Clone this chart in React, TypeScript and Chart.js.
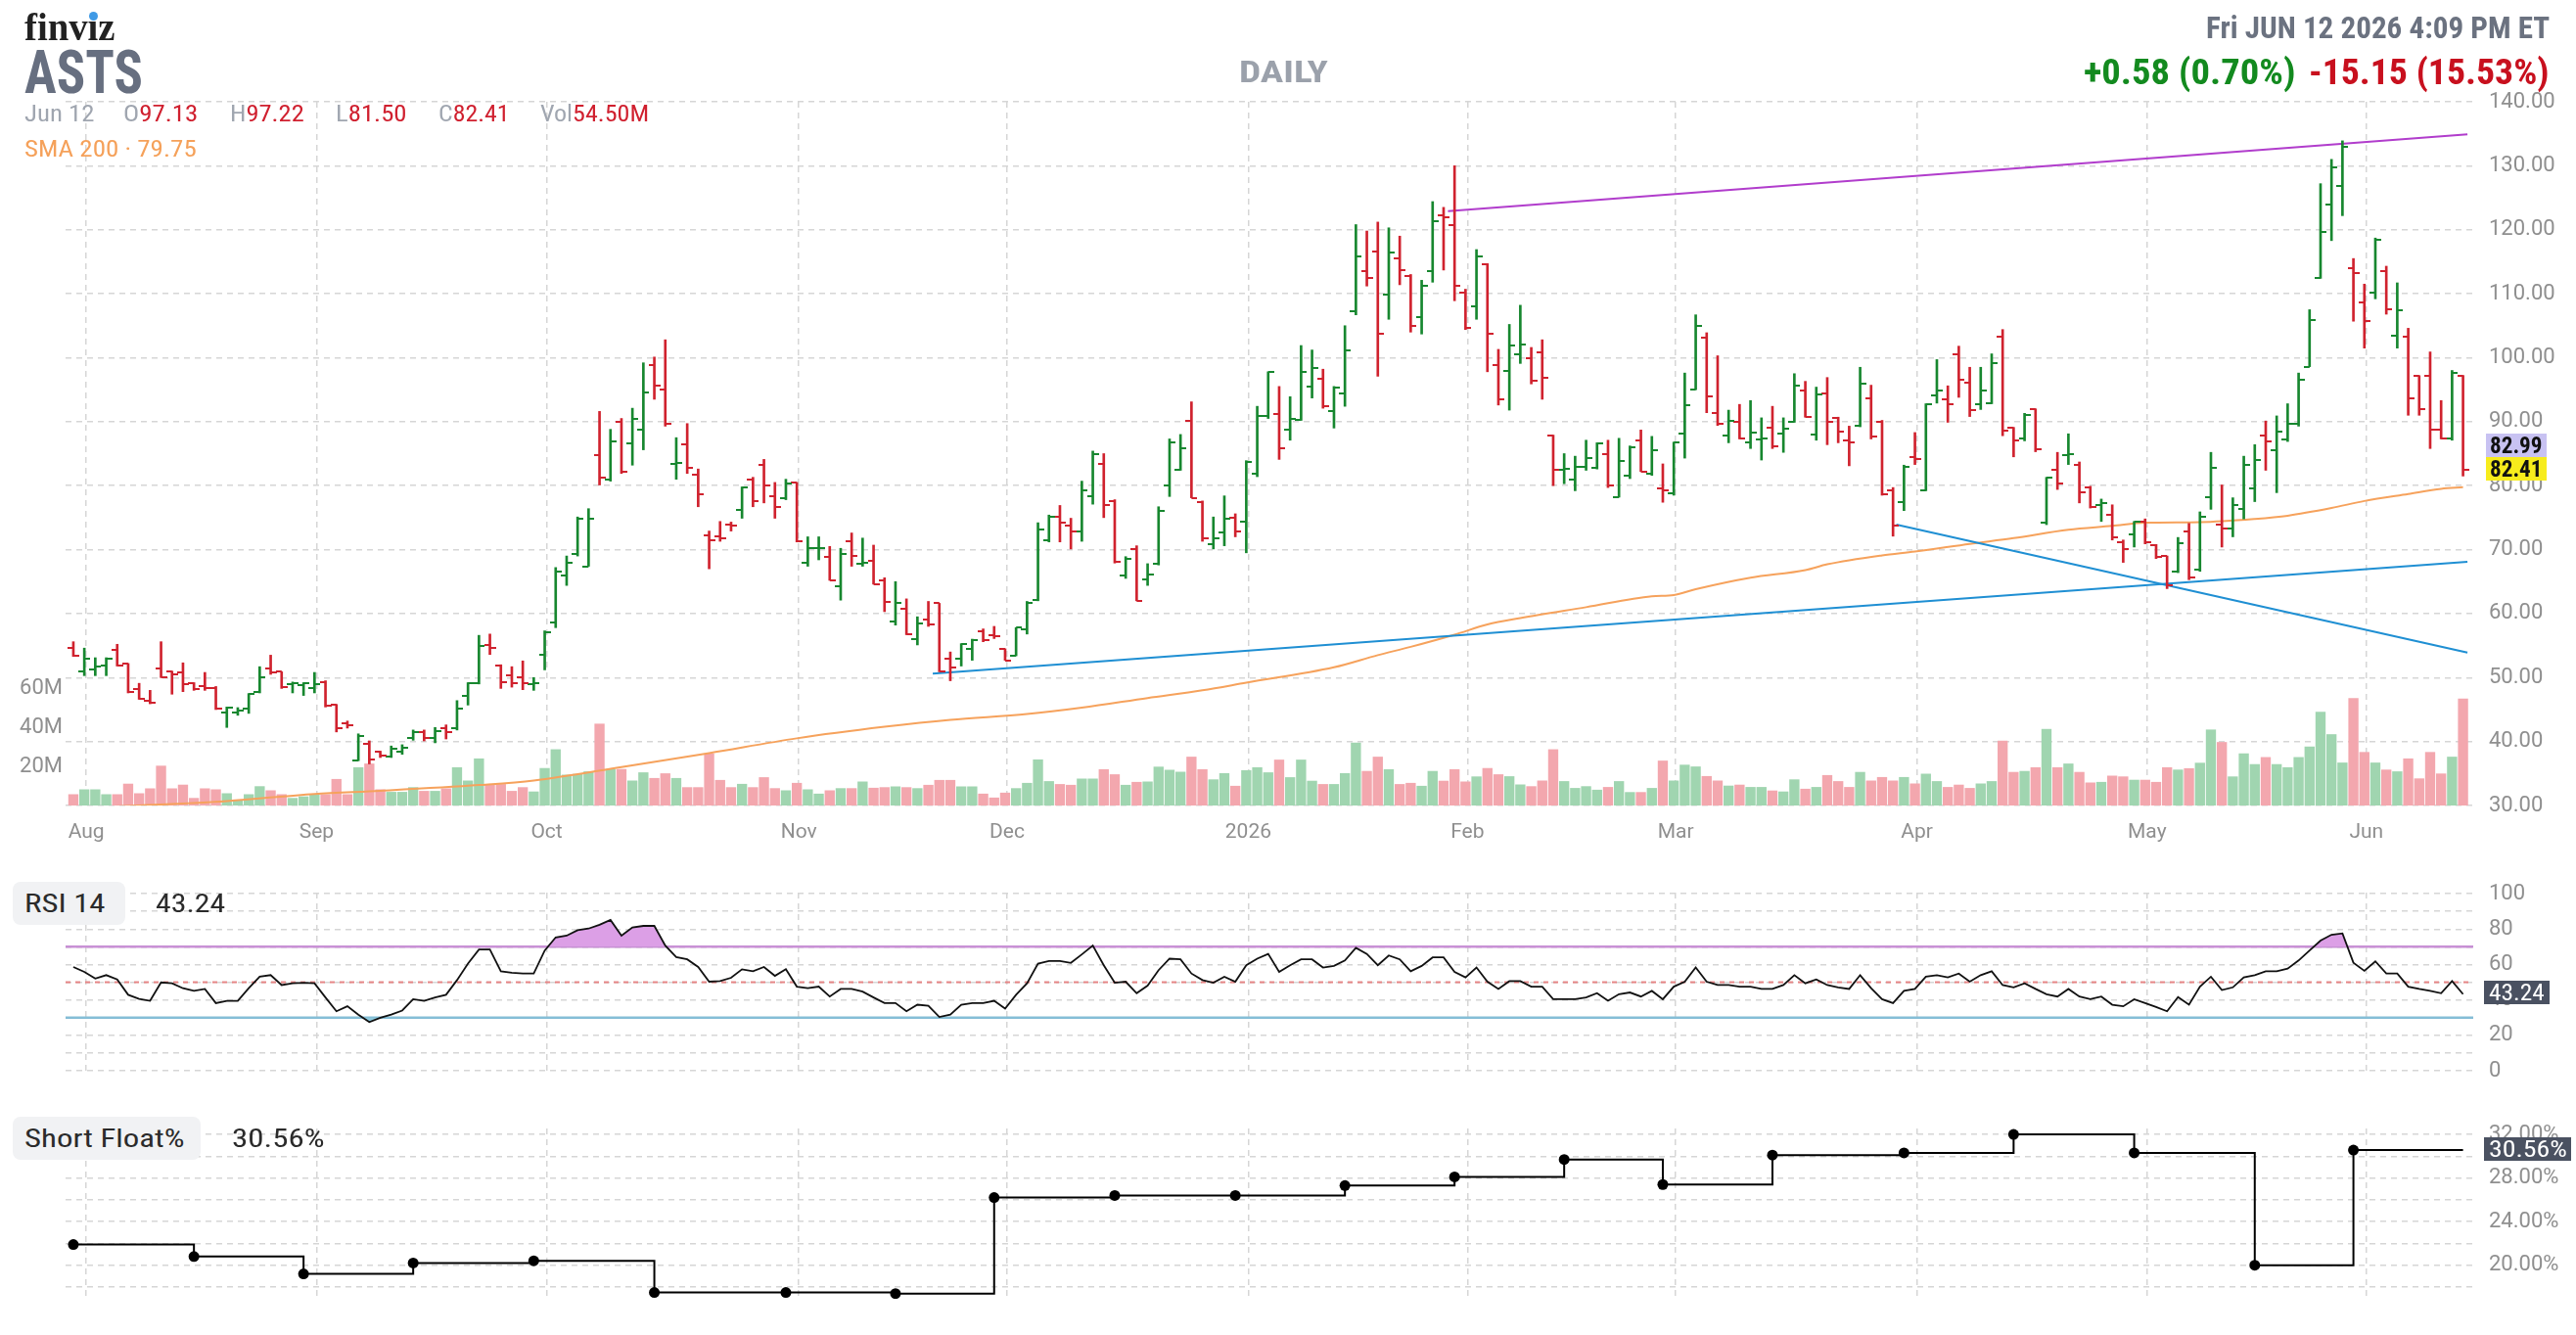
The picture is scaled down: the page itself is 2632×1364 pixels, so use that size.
import React, { useEffect, useLayoutEffect, useRef } from 'react';
import { Chart, registerables } from 'chart.js';

Chart.register(...registerables);

// ---------------- data ----------------
const monthLabels = ['Aug', 'Sep', 'Oct', 'Nov', 'Dec', '2026', 'Feb', 'Mar', 'Apr', 'May', 'Jun'];
const monthStartIdx = [1, 22, 43, 66, 85, 107, 127, 146, 168, 189, 209];

const opens = [
  54.7, 50.9, 51.2, 51.9, 54.3, 52.2, 48.2, 46.4, 51.4, 50.9,
  50.8, 49.1, 48.6, 48.3, 44.5, 44.5, 45.2, 47.8, 51.4, 50.9,
  48.9, 48.8, 48.3, 49.3, 45.7, 42.8, 37.1, 39.7, 38.4, 37.7,
  38.4, 40.6, 41.5, 40.6, 42.1, 42.1, 47.1, 49.1, 55.1, 51.9,
  50.3, 50.1, 48.9, 53.6, 58.6, 66.0, 69.3, 67.4, 84.8, 80.9,
  89.9, 86.6, 88.7, 98.8, 95.0, 83.4, 86.5, 81.7, 72.3, 72.0,
  73.9, 76.2, 80.9, 83.2, 78.3, 78.1, 80.5, 67.9, 70.2, 68.9,
  64.3, 71.3, 67.8, 68.3, 65.2, 58.7, 60.7, 56.0, 59.1, 61.6,
  53.0, 52.9, 54.5, 57.2, 56.6, 54.5, 53.4, 57.5, 62.2, 71.5,
  75.1, 73.7, 72.9, 78.3, 83.4, 77.6, 65.9, 70.1, 65.4, 67.8,
  80.1, 82.4, 90.1, 77.4, 70.8, 72.7, 75.0, 74.4, 81.9, 90.9,
  91.2, 88.7, 90.3, 95.5, 96.7, 91.6, 94.4, 107.3, 113.5, 116.6,
  109.8, 115.5, 112.8, 106.4, 113.5, 122.3, 120.7, 110.1, 108.0, 114.6,
  98.9, 97.9, 100.6, 99.9, 100.9, 87.9, 82.4, 80.9, 82.9, 82.8,
  85.0, 78.2, 81.6, 87.1, 81.8, 79.5, 78.8, 88.1, 95.0, 103.1,
  91.4, 87.8, 89.9, 86.7, 87.2, 89.1, 88.1, 89.9, 94.9, 88.0,
  94.4, 90.6, 87.1, 89.4, 93.7, 89.9, 79.3, 77.4, 84.4, 79.2,
  94.1, 93.5, 100.6, 96.1, 92.8, 92.9, 103.3, 89.0, 87.3, 91.9,
  74.2, 82.4, 84.8, 83.3, 79.7, 77.0, 75.5, 71.2, 72.4, 74.4,
  70.7, 69.0, 66.6, 72.8, 66.8, 78.2, 73.9, 73.3, 76.3, 79.5,
  87.9, 85.5, 87.2, 89.7, 98.6, 112.4, 124.0, 126.9, 114.0, 108.6,
  110.1, 113.6, 103.4, 103.3, 97.1, 97.2, 88.7, 87.4, 97.13,
];
const highs = [
  55.6, 54.6, 53.1, 53.1, 55.2, 52.2, 49.1, 48.0, 55.6, 51.0,
  52.3, 49.2, 50.8, 48.6, 45.4, 45.3, 47.5, 51.7, 53.5, 50.9,
  49.3, 49.2, 50.8, 49.5, 45.8, 43.2, 41.2, 40.1, 38.5, 39.3,
  39.5, 41.8, 41.8, 42.2, 42.6, 46.4, 49.2, 56.6, 56.8, 52.0,
  51.7, 52.6, 50.0, 57.3, 67.2, 69.0, 75.1, 76.4, 91.6, 88.8,
  90.5, 92.1, 99.2, 100.1, 102.8, 87.5, 89.7, 82.6, 72.9, 74.4,
  74.3, 79.8, 81.3, 84.1, 80.5, 81.0, 80.5, 72.0, 72.0, 70.5,
  70.2, 72.6, 71.8, 70.7, 65.6, 65.0, 62.3, 59.5, 61.9, 61.6,
  54.0, 55.3, 56.0, 57.6, 58.0, 54.5, 57.8, 61.9, 74.2, 75.4,
  76.9, 74.9, 80.7, 85.4, 85.0, 77.8, 68.9, 70.6, 67.8, 76.7,
  87.3, 88.0, 93.1, 77.6, 75.1, 78.4, 75.6, 83.9, 92.4, 97.8,
  95.5, 93.9, 101.9, 101.2, 98.2, 95.5, 105.0, 120.8, 119.8, 121.2,
  120.3, 119.0, 113.0, 112.1, 124.4, 123.5, 130.0, 110.7, 116.9, 114.7,
  101.3, 105.2, 108.2, 101.6, 102.8, 87.9, 85.0, 84.6, 87.1, 86.7,
  87.1, 87.4, 86.2, 88.7, 87.7, 83.4, 86.8, 97.6, 106.7, 103.9,
  100.3, 91.8, 92.7, 93.3, 90.6, 92.4, 90.6, 97.5, 96.3, 95.4,
  96.9, 90.7, 89.3, 98.5, 95.7, 90.2, 79.7, 83.2, 88.3, 92.8,
  99.7, 95.6, 101.8, 98.5, 98.5, 100.6, 104.4, 89.1, 91.3, 92.0,
  81.3, 85.2, 88.1, 83.7, 79.9, 77.9, 77.0, 71.5, 74.4, 74.8,
  70.8, 69.0, 71.9, 74.1, 75.9, 85.2, 80.1, 78.1, 84.6, 86.4,
  90.1, 90.9, 92.8, 97.6, 107.5, 127.2, 131.0, 133.9, 115.5, 111.5,
  118.7, 114.3, 111.7, 104.6, 97.2, 100.9, 93.3, 98.0, 97.22,
];
const lows = [
  53.3, 50.3, 50.3, 50.3, 51.8, 47.6, 46.6, 45.9, 50.0, 47.4,
  47.8, 48.0, 48.0, 45.0, 42.2, 44.1, 44.4, 47.6, 50.5, 48.3,
  47.6, 47.2, 47.6, 45.4, 41.5, 42.1, 37.0, 36.5, 37.5, 37.5,
  38.0, 40.2, 40.1, 39.8, 40.4, 41.8, 45.7, 49.0, 53.6, 48.3,
  48.5, 48.1, 48.0, 51.2, 57.8, 64.4, 69.0, 67.4, 80.1, 80.7,
  81.9, 83.2, 85.6, 93.5, 89.3, 81.0, 81.9, 76.7, 67.0, 71.3,
  72.9, 74.9, 76.7, 77.3, 74.9, 77.8, 71.2, 67.4, 68.4, 65.2,
  62.1, 67.4, 67.4, 64.6, 60.3, 58.2, 56.7, 55.1, 58.0, 50.9,
  49.5, 51.8, 52.7, 55.6, 56.1, 52.7, 53.4, 56.8, 62.0, 71.2,
  71.2, 70.1, 71.3, 77.1, 75.0, 67.9, 65.5, 62.0, 64.4, 67.6,
  78.3, 82.4, 78.1, 71.3, 70.1, 70.6, 72.0, 69.5, 81.4, 90.5,
  84.1, 87.1, 90.2, 93.7, 92.1, 89.0, 92.4, 106.7, 111.2, 97.1,
  106.0, 111.4, 104.0, 103.7, 111.8, 113.7, 108.9, 104.4, 106.0, 97.8,
  92.6, 91.8, 99.1, 95.9, 93.5, 80.0, 80.3, 79.2, 82.4, 82.6,
  79.7, 78.2, 81.1, 82.2, 81.6, 77.4, 78.5, 84.3, 95.0, 91.4,
  89.4, 86.7, 87.3, 85.8, 84.0, 85.8, 85.2, 89.9, 90.7, 87.1,
  86.4, 86.7, 83.1, 89.2, 87.3, 78.5, 72.1, 76.1, 83.3, 79.2,
  92.9, 89.9, 93.8, 90.8, 91.9, 92.8, 87.8, 84.5, 87.0, 85.3,
  73.9, 79.4, 83.3, 77.3, 76.5, 74.4, 71.5, 68.0, 70.4, 70.9,
  68.6, 63.9, 66.4, 65.3, 66.6, 76.3, 70.4, 72.0, 74.8, 77.5,
  82.4, 78.9, 86.9, 89.3, 98.6, 112.4, 118.3, 122.2, 105.7, 101.5,
  109.2, 106.8, 101.5, 91.0, 91.0, 85.8, 87.3, 87.1, 81.5,
];
const closes = [
  53.4, 52.9, 51.7, 52.9, 51.9, 47.7, 46.7, 46.1, 50.1, 50.5,
  49.0, 48.2, 48.3, 45.2, 45.3, 44.9, 47.4, 50.0, 50.8, 48.5,
  49.2, 49.1, 49.0, 45.6, 42.1, 42.6, 40.8, 37.2, 37.8, 38.8,
  39.0, 41.5, 40.6, 41.6, 41.5, 45.2, 49.1, 54.9, 54.6, 49.3,
  49.2, 49.1, 49.2, 57.1, 66.5, 67.9, 74.9, 74.8, 81.3, 86.9,
  82.1, 90.5, 94.5, 95.7, 89.7, 83.6, 82.8, 78.6, 71.4, 71.8,
  73.7, 79.7, 77.6, 80.1, 76.7, 80.3, 71.3, 70.3, 70.3, 65.2,
  69.3, 69.0, 67.9, 64.6, 61.8, 61.6, 56.7, 58.4, 58.3, 50.9,
  51.6, 55.3, 55.8, 55.8, 56.4, 52.7, 57.8, 61.7, 73.1, 75.2,
  74.2, 72.9, 79.3, 84.9, 76.9, 68.1, 68.6, 62.0, 66.1, 76.1,
  86.8, 85.8, 78.1, 71.8, 71.7, 74.9, 72.9, 83.7, 90.9, 97.7,
  85.8, 90.5, 97.7, 98.4, 92.4, 95.3, 101.2, 115.9, 112.5, 103.7,
  116.5, 113.7, 105.0, 111.3, 121.4, 122.0, 111.3, 104.6, 115.9, 103.7,
  93.5, 101.9, 102.1, 96.4, 96.9, 82.4, 82.6, 82.9, 84.3, 86.6,
  80.0, 83.9, 86.0, 82.2, 85.6, 79.2, 86.7, 92.6, 104.9, 93.9,
  89.6, 90.2, 87.4, 88.3, 87.3, 86.2, 88.9, 95.7, 90.8, 94.2,
  89.9, 88.4, 86.8, 96.0, 87.7, 78.6, 73.8, 82.9, 84.1, 92.7,
  94.9, 92.7, 96.6, 91.8, 94.9, 99.1, 88.6, 87.0, 91.0, 85.7,
  81.2, 80.4, 85.0, 79.0, 76.6, 77.2, 71.9, 70.1, 74.3, 71.2,
  68.8, 64.4, 71.0, 65.7, 75.2, 82.8, 73.3, 77.0, 83.2, 84.0,
  86.9, 88.4, 89.7, 96.6, 105.9, 119.7, 129.7, 133.0, 113.3, 105.7,
  118.4, 107.5, 107.4, 93.6, 91.9, 88.7, 87.4, 97.56, 82.41,
];
// volume in millions
const volumes = [
  5.6, 8.1, 8.1, 5.6, 5.6, 11.0, 6.1, 8.6, 20.2, 8.6,
  10.5, 3.7, 8.6, 8.1, 6.1, 2.4, 5.6, 9.7, 7.6, 5.6,
  3.7, 4.5, 5.6, 5.6, 13.4, 5.6, 19.4, 21.3, 8.1, 6.8,
  6.8, 9.2, 7.3, 7.3, 8.6, 19.4, 12.6, 23.9, 10.8, 10.8,
  7.3, 9.2, 7.0, 19.0, 28.6, 15.6, 16.0, 17.3, 41.7, 18.5,
  18.5, 12.6, 16.8, 13.9, 16.3, 13.9, 9.2, 9.2, 26.4, 12.9,
  9.2, 10.9, 9.2, 14.3, 8.7, 7.6, 11.4, 8.1, 5.9, 7.6,
  8.7, 8.7, 12.1, 8.9, 9.2, 9.6, 9.2, 8.7, 10.4, 12.9,
  12.9, 9.6, 9.6, 5.9, 3.9, 6.4, 8.7, 11.4, 23.4, 12.3,
  10.8, 10.4, 13.6, 13.6, 18.4, 15.8, 10.4, 11.9, 12.1, 19.7,
  18.1, 17.1, 24.8, 18.4, 13.2, 16.4, 9.9, 17.9, 19.4, 16.8,
  23.3, 14.3, 23.3, 12.5, 10.8, 10.8, 16.4, 32.0, 17.5, 24.8,
  18.4, 10.8, 11.4, 9.9, 17.5, 12.5, 18.4, 12.1, 14.7, 19.0,
  15.8, 14.8, 10.6, 9.7, 12.6, 28.6, 12.3, 8.8, 9.7, 7.9,
  9.3, 12.3, 6.7, 6.7, 8.8, 22.8, 12.6, 20.7, 19.8, 14.9,
  12.6, 10.0, 10.5, 9.3, 9.3, 7.5, 7.0, 13.2, 8.4, 9.3,
  15.4, 12.3, 9.3, 17.0, 12.6, 14.4, 12.6, 14.4, 11.1, 16.1,
  12.3, 9.3, 10.5, 8.8, 11.1, 12.3, 33.0, 17.0, 17.5, 19.4,
  39.0, 19.4, 21.3, 17.0, 11.6, 11.9, 15.1, 14.7, 13.0, 13.0,
  11.9, 19.4, 18.2, 18.9, 21.7, 38.7, 32.3, 14.7, 26.5, 21.0,
  24.6, 21.0, 19.4, 24.6, 30.0, 47.8, 36.3, 21.8, 54.8, 27.2,
  21.8, 18.2, 17.3, 23.9, 13.7, 27.2, 16.2, 24.8, 54.5,
];

const smaIdx = [0, 6, 14, 22, 28, 37, 42, 50, 58, 66, 74, 80, 87, 92, 98, 103, 107, 115, 119, 122, 126, 129, 132, 138, 144, 146, 148, 153, 158, 160, 165, 168, 173, 177, 182, 186, 189, 194, 199, 202, 206, 209, 213, 216, 218];
const smaVal = [29.6, 30.0, 30.7, 31.8, 32.3, 33.2, 33.9, 36.0, 38.2, 40.5, 42.3, 43.4, 44.3, 45.3, 46.8, 48.0, 49.2, 51.6, 53.5, 54.8, 56.7, 58.3, 59.3, 61.0, 62.7, 62.9, 63.8, 65.6, 66.8, 67.7, 69.1, 69.7, 70.9, 71.8, 73.1, 73.7, 74.2, 74.3, 74.8, 75.3, 76.5, 77.6, 78.7, 79.5, 79.75];

const purpleX = [125.4, 218.4];
const purpleY = [122.9, 134.9];
const blueUpX = [78.4, 218.4];
const blueUpY = [50.6, 68.1];
const blueDnX = [166.3, 218.4];
const blueDnY = [73.9, 53.9];

const rsiVals = [
  58.6, 55.8, 52.1, 54.0, 51.6, 42.9, 40.6, 39.5, 49.9, 49.4,
  46.6, 45.1, 46.2, 38.2, 39.5, 39.5, 46.6, 53.1, 54.0, 48.4,
  49.4, 49.7, 49.4, 41.4, 33.6, 36.4, 31.7, 27.5, 29.9, 31.7,
  34.0, 40.4, 39.5, 41.4, 42.9, 51.2, 60.5, 68.5, 68.5, 56.2,
  55.3, 54.9, 54.9, 67.9, 75.3, 76.3, 79.4, 80.3, 82.4, 85.2,
  76.3, 80.9, 81.8, 81.8, 70.7, 64.2, 62.9, 58.6, 50.3, 50.6,
  52.5, 57.3, 56.2, 58.6, 53.6, 57.3, 47.5, 46.6, 47.5, 41.9,
  46.2, 46.2, 44.7, 41.4, 38.2, 38.2, 33.6, 37.3, 36.7, 30.4,
  31.7, 37.3, 38.2, 38.2, 39.5, 35.1, 42.9, 49.4, 60.5, 62.0,
  62.0, 60.9, 65.7, 70.7, 59.6, 49.7, 50.3, 43.8, 48.1, 56.8,
  63.3, 62.9, 54.9, 51.2, 49.7, 53.1, 50.3, 59.6, 63.3, 66.0,
  55.8, 59.6, 62.9, 62.9, 58.3, 59.2, 62.3, 69.4, 66.0, 59.6,
  65.1, 62.9, 56.2, 59.2, 64.0, 64.0, 55.8, 52.7, 58.3, 50.3,
  46.2, 50.6, 50.6, 47.5, 47.5, 40.4, 40.4, 40.4, 41.4, 43.8,
  39.5, 43.2, 44.2, 41.9, 45.1, 40.4, 47.5, 50.3, 58.3, 50.3,
  48.4, 48.4, 47.5, 47.5, 46.2, 46.2, 48.4, 54.0, 49.4, 51.6,
  48.4, 47.1, 46.2, 54.0, 46.6, 40.4, 38.2, 45.1, 46.2, 53.1,
  54.0, 52.7, 54.9, 50.3, 54.0, 56.2, 48.4, 47.1, 49.4, 46.2,
  43.2, 41.9, 46.2, 41.9, 40.4, 41.9, 37.3, 36.4, 40.4, 38.2,
  36.0, 33.6, 41.6, 37.3, 47.5, 53.1, 45.6, 47.1, 52.7, 54.0,
  56.2, 56.2, 57.7, 62.3, 67.9, 73.5, 76.8, 77.6, 61.0, 56.4,
  61.8, 54.9, 54.9, 47.5, 46.2, 45.1, 43.8, 50.6, 43.24,
];

const shortIdx = [0, 11, 21, 31, 42, 53, 65, 75, 84, 95, 106, 116, 126, 136, 145, 155, 167, 177, 188, 199, 208];
const shortVals = [21.9, 20.8, 19.2, 20.2, 20.4, 17.5, 17.5, 17.4, 26.2, 26.4, 26.4, 27.3, 28.1, 29.7, 27.4, 30.1, 30.3, 32.0, 30.3, 20.0, 30.56];

const rsiTicks = [0, 10, 20, 30, 40, 50, 60, 70, 80, 90, 100];
const shortTicks = [18, 20, 22, 24, 26, 28, 30, 32];
const priceTicks = [30, 40, 50, 60, 70, 80, 90, 100, 110, 120, 130, 140];
const volTicks = [20, 40, 60];

// ---------------- styles ----------------
const FONT_N = "'Liberation Sans Narrow', 'Roboto Condensed', Roboto, sans-serif";
const TICK_FONT = { family: 'Roboto, sans-serif', size: 22 };
const GREEN = '#17872f';
const RED = '#d0222e';
const VOL_GREEN = '#a0d5b0';
const VOL_RED = '#f3a7ae';
const GRID = '#d6d6d6';
const TICK = '#8f8f8f';
const X_MIN = -0.71;
const X_MAX = 218.93;
const LAST = closes.length - 1;

const xAxis = (labels: boolean): any => ({
  type: 'linear',
  min: X_MIN,
  max: X_MAX,
  offset: false,
  bounds: 'data',
  afterBuildTicks: (s: any) => {
    s.ticks = monthStartIdx.map((i) => ({ value: i + 0.18 }));
  },
  afterFit: (s: any) => {
    s.height = labels ? 57 : 0;
  },
  ticks: {
    display: labels,
    autoSkip: false,
    maxRotation: 0,
    minRotation: 0,
    padding: 15,
    color: TICK,
    font: { family: 'Roboto, sans-serif', size: 21 },
    callback: (_v: any, idx: number) => monthLabels[idx],
  },
  grid: { color: GRID, lineWidth: 1.5, drawTicks: false, offset: false },
  border: { display: false, dash: [6, 5] },
});

const rightAxis = (min: number, max: number, values: number[], label: (v: number) => string): any => ({
  type: 'linear',
  position: 'right',
  min,
  max,
  bounds: 'data',
  afterBuildTicks: (s: any) => {
    s.ticks = values.map((v) => ({ value: v }));
  },
  afterFit: (s: any) => {
    s.width = 105;
  },
  ticks: {
    autoSkip: false,
    padding: 16,
    color: TICK,
    font: TICK_FONT,
    callback: (v: any) => label(Number(v)),
  },
  grid: { color: GRID, lineWidth: 1.5, drawTicks: false },
  border: { display: false, dash: [6, 5] },
});

const baseOpts = {
  responsive: false,
  animation: false as const,
  events: [] as any[],
  plugins: { legend: { display: false }, tooltip: { enabled: false } },
};

function tickImg(color: string, side: 'l' | 'r') {
  const c = document.createElement('canvas');
  c.width = 12;
  c.height = 2;
  const g = c.getContext('2d')!;
  g.fillStyle = color;
  if (side === 'l') g.fillRect(0, 0, 6, 2);
  else g.fillRect(6, 0, 6, 2);
  return c;
}

function MainChart() {
  const ref = useRef<HTMLCanvasElement>(null);
  useEffect(() => {
    const up = closes.map((c, i) => c >= opens[i]);
    const oG = tickImg(GREEN, 'l');
    const oR = tickImg(RED, 'l');
    const cG = tickImg(GREEN, 'r');
    const cR = tickImg(RED, 'r');
    const line2 = (xs: number[], ys: number[], color: string, order: number) => ({
      type: 'line',
      data: xs.map((x, k) => ({ x, y: ys[k] })),
      borderColor: color,
      borderWidth: 2,
      pointRadius: 0,
      xAxisID: 'x',
      yAxisID: 'y',
      order,
    });
    const chart = new Chart(ref.current!, {
      type: 'line',
      data: {
        datasets: [
          {
            type: 'line',
            data: closes.map((c, i) => ({ x: i, y: c })),
            showLine: false,
            pointStyle: up.map((u) => (u ? cG : cR)),
            pointRadius: 3,
            xAxisID: 'x',
            yAxisID: 'y',
            order: 0,
          },
          {
            type: 'line',
            data: opens.map((o, i) => ({ x: i, y: o })),
            showLine: false,
            pointStyle: up.map((u) => (u ? oG : oR)),
            pointRadius: 3,
            xAxisID: 'x',
            yAxisID: 'y',
            order: 1,
          },
          {
            type: 'bar',
            data: highs.map((h, i) => ({ x: i, y: [lows[i], h] })),
            backgroundColor: up.map((u) => (u ? GREEN : RED)),
            barThickness: 2,
            grouped: false,
            xAxisID: 'x',
            yAxisID: 'y',
            order: 2,
          },
          line2(purpleX, purpleY, '#b13dcc', 3),
          line2(blueUpX, blueUpY, '#1f8fd3', 3),
          line2(blueDnX, blueDnY, '#1f8fd3', 3),
          {
            type: 'line',
            data: smaIdx.map((x, k) => ({ x, y: smaVal[k] })),
            borderColor: '#f6a25c',
            borderWidth: 2,
            pointRadius: 0,
            cubicInterpolationMode: 'monotone',
            xAxisID: 'x',
            yAxisID: 'y',
            order: 4,
          },
          {
            type: 'bar',
            data: volumes.map((v, i) => ({ x: i, y: v })),
            backgroundColor: up.map((u) => (u ? VOL_GREEN : VOL_RED)),
            barThickness: 9.7,
            grouped: false,
            xAxisID: 'x',
            yAxisID: 'yVol',
            order: 5,
          },
        ] as any,
      },
      options: {
        ...baseOpts,
        layout: { padding: { top: 104, left: 0, right: 0, bottom: 0 } },
        scales: {
          x: xAxis(true),
          y: rightAxis(30, 140, priceTicks, (v) => v.toFixed(2)),
          yVol: {
            type: 'linear',
            position: 'left',
            min: 0,
            max: 360,
            bounds: 'data',
            afterBuildTicks: (s: any) => {
              s.ticks = volTicks.map((v) => ({ value: v }));
            },
            afterFit: (s: any) => {
              s.width = 67;
            },
            ticks: {
              autoSkip: false,
              padding: 3,
              color: TICK,
              font: TICK_FONT,
              callback: (v: any) => v + 'M',
            },
            grid: { display: false, drawTicks: false },
            border: { display: false },
          },
        } as any,
      } as any,
    });
    return () => chart.destroy();
  }, []);
  return <canvas ref={ref} width={2632} height={880} style={{ position: 'absolute', left: 0, top: 0, width: 2632, height: 880 }} />;
}

function RsiChart() {
  const ref = useRef<HTMLCanvasElement>(null);
  useEffect(() => {
    const hline = (v: number, color: string, width: number, dash: number[], order: number) => ({
      type: 'line',
      data: [
        { x: X_MIN, y: v },
        { x: X_MAX, y: v },
      ],
      borderColor: color,
      borderWidth: width,
      borderDash: dash,
      pointRadius: 0,
      order,
    });
    const pts = rsiVals.map((v, i) => ({ x: i, y: v }));
    const chart = new Chart(ref.current!, {
      type: 'line',
      data: {
        datasets: [
          {
            data: pts,
            borderColor: '#111111',
            borderWidth: 1.8,
            pointRadius: 0,
            fill: { target: { value: 70 }, above: '#dc9fe6', below: 'rgba(0,0,0,0)' },
            order: 0,
          },
          {
            data: pts,
            borderColor: 'rgba(0,0,0,0)',
            borderWidth: 0,
            pointRadius: 0,
            fill: { target: { value: 30 }, above: 'rgba(0,0,0,0)', below: '#8cc8dc' },
            order: 1,
          },
          hline(70, '#c78fd4', 2.5, [], 2),
          hline(30, '#84bdd6', 2.5, [], 2),
          hline(50, '#e58585', 2, [5, 5], 2),
        ] as any,
      },
      options: {
        ...baseOpts,
        layout: { padding: { top: 50, left: 67, right: 0, bottom: 46 } },
        scales: {
          x: xAxis(false),
          y: rightAxis(-1.1, 100.6, rsiTicks, (v) => (v % 20 === 0 ? String(v) : '')),
        } as any,
      } as any,
    });
    return () => chart.destroy();
  }, []);
  return <canvas ref={ref} width={2632} height={280} style={{ position: 'absolute', left: 0, top: 862, width: 2632, height: 280 }} />;
}

function ShortChart() {
  const ref = useRef<HTMLCanvasElement>(null);
  useEffect(() => {
    const stepPts = shortIdx.map((x, k) => ({ x, y: shortVals[k] }));
    const chart = new Chart(ref.current!, {
      type: 'line',
      data: {
        datasets: [
          {
            data: stepPts,
            showLine: false,
            pointRadius: 5.5,
            pointBackgroundColor: '#000',
            pointBorderWidth: 0,
            order: 0,
          },
          {
            data: [...stepPts, { x: LAST, y: shortVals[shortVals.length - 1] }],
            borderColor: '#000',
            borderWidth: 2,
            stepped: true,
            pointRadius: 0,
            order: 1,
          },
        ] as any,
      },
      options: {
        ...baseOpts,
        layout: { padding: { top: 43, left: 67, right: 0, bottom: 37 } },
        scales: {
          x: xAxis(false),
          y: rightAxis(16.92, 32.54, shortTicks, (v) => (Math.round(v) % 4 === 0 ? v.toFixed(2) + '%' : '')),
        } as any,
      } as any,
    });
    return () => chart.destroy();
  }, []);
  return <canvas ref={ref} width={2632} height={254} style={{ position: 'absolute', left: 0, top: 1110, width: 2632, height: 254 }} />;
}

// ---------------- HTML text helpers ----------------
type TxtProps = {
  x: number;
  base: number;
  w: number;
  size: number;
  weight?: number;
  color: string;
  family?: string;
  align?: 'left' | 'right' | 'center';
  children: React.ReactNode;
};

function Txt({ x, base, w, size, weight = 400, color, family = FONT_N, align = 'left', children }: TxtProps) {
  const ref = useRef<HTMLSpanElement>(null);
  useLayoutEffect(() => {
    const el = ref.current;
    if (!el) return;
    const aw = el.offsetWidth;
    if (aw > 0) el.style.transform = `scaleX(${w / aw})`;
  });
  const left = align === 'left' ? x : align === 'right' ? x - w : x - w / 2;
  return (
    <span
      ref={ref}
      style={{
        position: 'absolute',
        left,
        top: base - 0.845 * size,
        fontSize: size,
        lineHeight: `${size}px`,
        fontFamily: family,
        fontWeight: weight,
        color,
        whiteSpace: 'nowrap',
        transformOrigin: 'left top',
      }}
    >
      {children}
    </span>
  );
}

function Box({ x, y, w, h, bg, r = 0 }: { x: number; y: number; w: number; h: number; bg: string; r?: number }) {
  return <div style={{ position: 'absolute', left: x, top: y, width: w, height: h, background: bg, borderRadius: r }} />;
}

const GRAY_L = '#a0a6b0';
const VAL_RED = '#d0202f';

export default function App() {
  return (
    <div style={{ position: 'absolute', left: 0, top: 0, width: 2632, height: 1364, background: '#fff', overflow: 'hidden' }}>
      <MainChart />
      <RsiChart />
      <ShortChart />

      {/* header */}
      <Txt x={25} base={42} w={93} size={40} weight={700} color="#222" family="'Liberation Serif', 'DejaVu Serif', serif">
        finviz
      </Txt>
      <div style={{ position: 'absolute', left: 90.5, top: 11.5, width: 9, height: 9, borderRadius: '50%', background: '#3f9ae6' }} />
      <Txt x={25} base={96} w={121} size={61} weight={700} color="#676f80">
        ASTS
      </Txt>
      <Txt x={1311} base={84} w={91} size={32} weight={700} color="#9ba1ab" align="center">
        DAILY
      </Txt>
      <Txt x={2605} base={39} w={351} size={31} weight={700} color="#6b7280" align="right">
        Fri JUN 12 2026 4:09 PM ET
      </Txt>
      <Txt x={2129} base={86} w={216} size={37} weight={700} color="#138a1f">
        +0.58 (0.70%)
      </Txt>
      <Txt x={2359} base={86} w={246} size={37} weight={700} color="#c8101e">
        -15.15 (15.53%)
      </Txt>

      <Txt x={25} base={124} w={71} size={23} color={GRAY_L}>
        Jun 12
      </Txt>
      <Txt x={126} base={124} w={76} size={23} color={VAL_RED}>
        <span style={{ color: GRAY_L }}>O</span>97.13
      </Txt>
      <Txt x={235} base={124} w={76} size={23} color={VAL_RED}>
        <span style={{ color: GRAY_L }}>H</span>97.22
      </Txt>
      <Txt x={343} base={124} w={72} size={23} color={VAL_RED}>
        <span style={{ color: GRAY_L }}>L</span>81.50
      </Txt>
      <Txt x={448} base={124} w={73} size={23} color={VAL_RED}>
        <span style={{ color: GRAY_L }}>C</span>82.41
      </Txt>
      <Txt x={552} base={124} w={111} size={23} color={VAL_RED}>
        <span style={{ color: GRAY_L }}>Vol</span>54.50M
      </Txt>
      <Txt x={25} base={160} w={176} size={23} color="#f5a15a">
        SMA 200 · 79.75
      </Txt>

      {/* right price flags */}
      <Box x={2540} y={443} w={62} h={24} bg="#c8c2f2" />
      <Txt x={2571} base={463.5} w={54} size={24} weight={700} color="#111" align="center">
        82.99
      </Txt>
      <Box x={2540} y={467} w={62} h={24} bg="#f7ec1c" />
      <Txt x={2571} base={487.5} w={54} size={24} weight={700} color="#111" align="center">
        82.41
      </Txt>

      {/* RSI labels */}
      <Box x={13} y={901} w={115} h={44} bg="#f1f2f4" r={8} />
      <Txt x={25} base={932} w={82} size={26} color="#2b2b2b">
        RSI 14
      </Txt>
      <Txt x={159} base={932} w={71} size={26} color="#2b2b2b">
        43.24
      </Txt>
      <Box x={2538} y={1002} w={67} h={24} bg="#4a5161" />
      <Txt x={2571.5} base={1022.5} w={57} size={24} color="#fff" align="center">
        43.24
      </Txt>

      {/* Short float labels */}
      <Box x={13} y={1141} w={192} h={44} bg="#f1f2f4" r={8} />
      <Txt x={25} base={1172} w={163} size={26} color="#2b2b2b">
        Short Float%
      </Txt>
      <Txt x={237} base={1172} w={95} size={26} color="#2b2b2b">
        30.56%
      </Txt>
      <Box x={2538} y={1162} w={89} h={24} bg="#4a5161" />
      <Txt x={2582.5} base={1182.5} w={80} size={24} color="#fff" align="center">
        30.56%
      </Txt>
    </div>
  );
}
